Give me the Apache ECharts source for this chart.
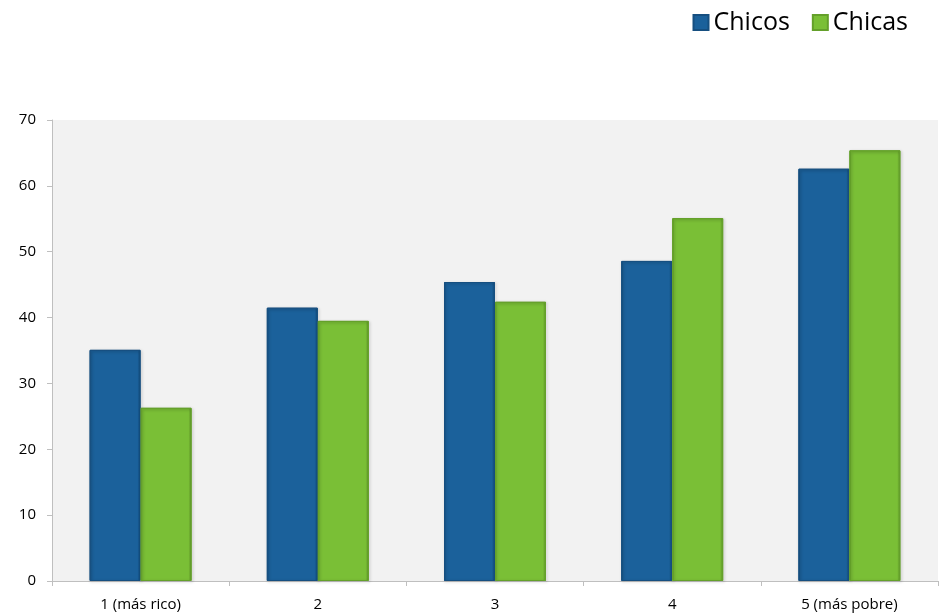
<!DOCTYPE html>
<html>
<head>
<meta charset="utf-8">
<script src="https://cdn.jsdelivr.net/npm/echarts@6/dist/echarts.min.js"></script>
<style>
html,body{margin:0;padding:0;background:#fff;}
#chart{width:939px;height:613px;}
</style>
</head>
<body>
<div id="chart"></div>
<script>
// Quintiles of household wealth
const categories = ['1 (más rico)', '2', '3', '4', '5 (más pobre)'];
const chicos = [35.1, 41.5, 45.4, 48.6, 62.6];
const chicas = [26.3, 39.5, 42.4, 55.1, 65.4];
const seriesNames = ['Chicos', 'Chicas'];

const chart = echarts.init(document.getElementById('chart'));

function bevel(main, dark) {
  return {
    type: 'linear', x: 0, y: 0, x2: 1, y2: 0,
    colorStops: [
      { offset: 0, color: dark },
      { offset: 0.04, color: main },
      { offset: 0.94, color: main },
      { offset: 1, color: dark }
    ]
  };
}

chart.setOption({
  backgroundColor: '#ffffff',
  textStyle: { fontFamily: 'Open Sans, Liberation Sans, sans-serif' },
  legend: {
    right: 26, top: 5,
    icon: 'rect',
    itemWidth: 15, itemHeight: 15, itemGap: 22,
    textStyle: { fontSize: 25, color: '#000', fontFamily: 'Open Sans, sans-serif' },
    data: seriesNames
  },
  grid: { left: 52, right: 1, top: 120, bottom: 32, containLabel: false,
          show: true, backgroundColor: '#f2f2f2', borderWidth: 0 },
  xAxis: {
    type: 'category', data: categories,
    axisLine: { lineStyle: { color: '#bfbfbf' } },
    axisTick: { show: true, length: 5, lineStyle: { color: '#bfbfbf' } },
    axisLabel: { color: '#000', fontSize: 15, margin: 16 }
  },
  yAxis: {
    type: 'value', min: 0, max: 70, interval: 10,
    axisLine: { show: true, lineStyle: { color: '#bfbfbf' } },
    axisTick: { show: true, length: 5, lineStyle: { color: '#bfbfbf' } },
    splitLine: { show: false },
    axisLabel: { color: '#000', fontSize: 15, margin: 16 }
  },
  series: [
    {
      name: seriesNames[0], type: 'bar', data: chicos,
      barWidth: 51, barGap: '0%',
      itemStyle: {
        color: bevel('#1b619b', '#124a7a'),
        borderColor: '#164f80', borderWidth: 1,
        shadowColor: 'rgba(0,0,0,0.25)', shadowBlur: 3, shadowOffsetX: 1, shadowOffsetY: 1
      }
    },
    {
      name: seriesNames[1], type: 'bar', data: chicas,
      barWidth: 51,
      itemStyle: {
        color: bevel('#7abf36', '#5e9527'),
        borderColor: '#64a02a', borderWidth: 1,
        shadowColor: 'rgba(0,0,0,0.25)', shadowBlur: 3, shadowOffsetX: 1, shadowOffsetY: 1
      }
    }
  ]
});
</script>
</body>
</html>
